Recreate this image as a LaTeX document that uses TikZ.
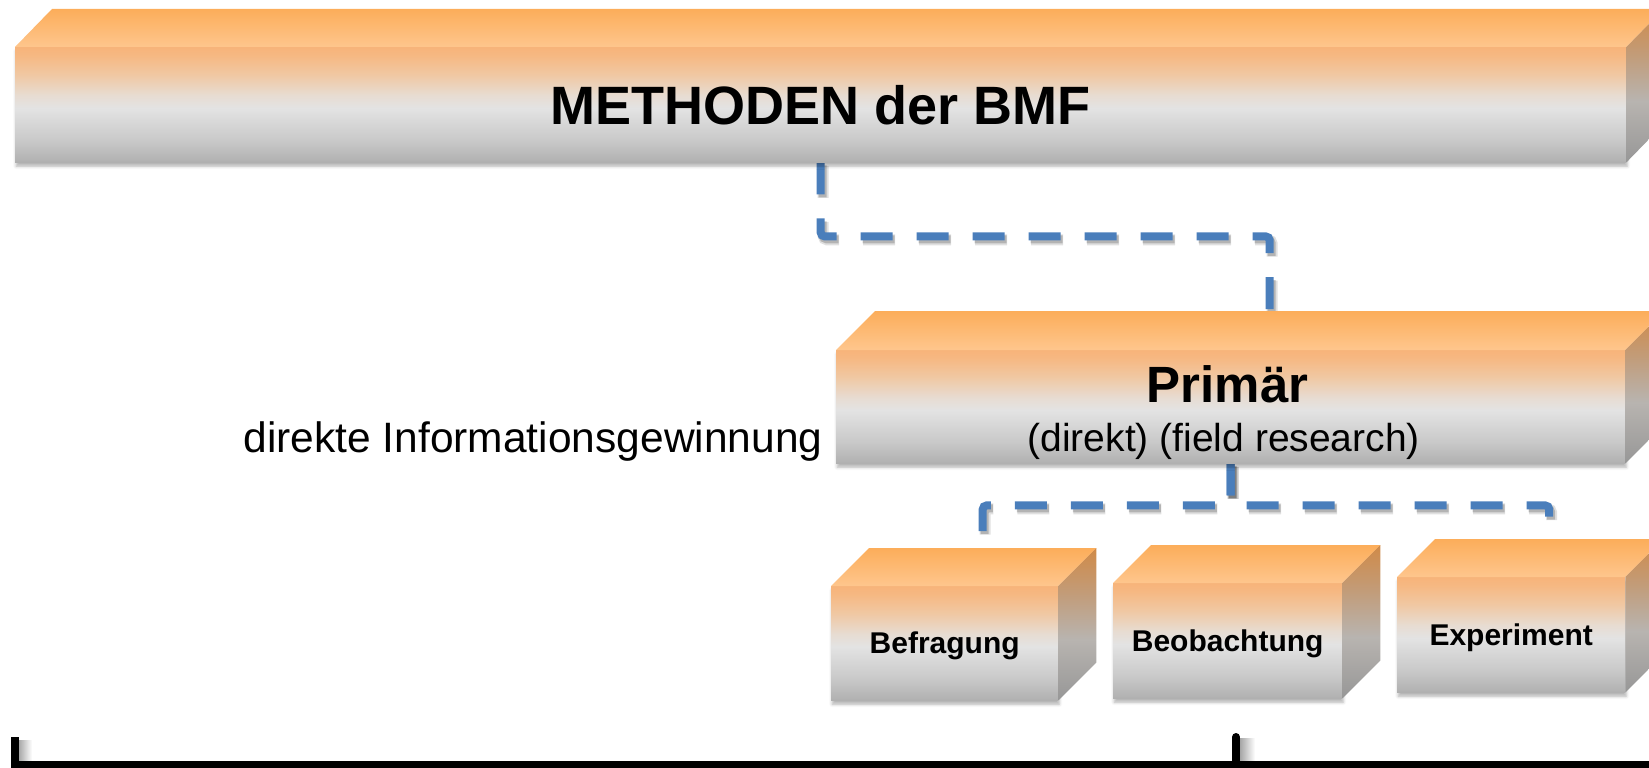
\documentclass[tikz,border=0pt]{standalone}
\usepackage{fontspec}
\setmainfont{Liberation Sans}
\usetikzlibrary{calc,shadows.blur}

\pgfdeclarelayer{bg}
\pgfsetlayers{bg,main}

% face colours of the 3-D blocks
\definecolor{fr0}{HTML}{B0B0B0}
\definecolor{fr1}{HTML}{C9C9C9}
\definecolor{fr2}{HTML}{E3E3E3}
\definecolor{fr3}{HTML}{E7DCD2}
\definecolor{fr4}{HTML}{F0C8A3}
\definecolor{fr5}{HTML}{F6B882}
\definecolor{fr6}{HTML}{F7B47A}
\definecolor{tp0}{HTML}{FEC68D}
\definecolor{tp1}{HTML}{FCAD5A}
\definecolor{sd0}{HTML}{979797}
\definecolor{sd1}{HTML}{B8B4B0}
\definecolor{sd2}{HTML}{C29C79}
\definecolor{sd3}{HTML}{D08A48}
\definecolor{linkblue}{HTML}{4A7EBB}

\pgfdeclareverticalshading{frontshade}{100bp}{color(0bp)=(fr0); color(25bp)=(fr0);
  color(34.5bp)=(fr1); color(48.5bp)=(fr2); color(54bp)=(fr3); color(63bp)=(fr4);
  color(71.5bp)=(fr5); color(75bp)=(fr6); color(100bp)=(fr6)}
\pgfdeclareverticalshading{topshade}{100bp}{color(0bp)=(tp0); color(25bp)=(tp0);
  color(75bp)=(tp1); color(100bp)=(tp1)}
\pgfdeclareverticalshading{sideshade}{100bp}{color(0bp)=(sd0); color(25bp)=(sd0);
  color(45bp)=(sd1); color(60bp)=(sd2); color(75bp)=(sd3); color(100bp)=(sd3)}

\tikzset{
  front/.style={rectangle, inner sep=0pt, anchor=north west, shade, shading=frontshade,
    blur shadow={shadow xshift=1pt, shadow yshift=-4pt, shadow blur radius=3pt, shadow opacity=30}},
  topface/.style={shade, shading=topshade},
  sideface/.style={shade, shading=sideshade},
  bigtitle/.style={font=\bfseries\fontsize{54}{60}\selectfont, text height=38.7pt, text depth=0pt},
  smalltitle/.style={font=\bfseries\fontsize{30}{36}\selectfont, text height=21.5pt, text depth=0pt},
  link/.style={draw=linkblue, line width=8pt, dash pattern=on 32pt off 24pt, rounded corners=4pt},
  linkshadow/.style={draw=black, draw opacity=.12, line width=11pt, dash pattern=on 32pt off 24pt,
    rounded corners=4pt, transform canvas={xshift=2.5pt, yshift=-3.5pt}},
  linkshade/.style={draw=black, draw opacity=.2, line width=8pt, dash pattern=on 32pt off 24pt,
    rounded corners=4pt, transform canvas={xshift=2pt, yshift=-3pt}},
  bracket/.style={draw=black, line width=8pt},
}

% top and right faces of a block whose front face is node #1, depth (#2,#3)
\newcommand\blockfaces[3]{%
  \path[topface] (#1.north west) -- ++(#2,-#3) -- ($(#1.north east)+(#2,-#3)$)
    -- (#1.north east) -- cycle;
  \path[sideface] (#1.north east) -- ++(#2,-#3) -- ($(#1.south east)+(#2,-#3)$)
    -- (#1.south east) -- cycle;
}

\begin{document}
\begin{tikzpicture}[x=1pt, y=-1pt]
\useasboundingbox (0,0) rectangle (1649,768);

% blocks
\node[front, bigtitle, minimum width=1611pt, minimum height=115pt] (meth) at (15,47) {METHODEN der BMF};
\blockfaces{meth}{37}{38}

\node[front, minimum width=789pt, minimum height=113pt] (prim) at (836,350) {};
\blockfaces{prim}{39}{39}
\node[anchor=base, font=\bfseries\fontsize{51}{56}\selectfont] (primlbl)
  at ($(prim.north)+(-3,52)$) {Primär};
\node[anchor=base, font=\fontsize{39}{44}\selectfont] (primsub)
  at ($(prim.north)+(-7,101)$) {(direkt) (field research)};

\node[front, smalltitle, minimum width=227pt, minimum height=114pt] (bef) at (831,586) {Befragung};
\blockfaces{bef}{38}{38}
\node[front, smalltitle, minimum width=229pt, minimum height=115pt] (beo) at (1113,583) {Beobachtung};
\blockfaces{beo}{38}{38}
\node[front, smalltitle, minimum width=228pt, minimum height=115pt] (exp) at (1397,577) {Experiment};
\blockfaces{exp}{38}{38}

\node[anchor=base, font=\fontsize{42.5}{48}\selectfont] (direkt) at (533,452) {direkte Informationsgewinnung};

% attachment points on the back edge of each block's top face
\coordinate (primtop) at ($(prim.north)+(39,-39)$);
\coordinate (beftop)  at ($(bef.north)+(38,-38)$);
\coordinate (exptop)  at ($(exp.north)+(38,-38)$);

% dashed elbow connectors with a soft drop shadow, behind the blocks
\begin{pgfonlayer}{bg}
  \foreach \sty in {linkshadow,linkshade,link} {
    \draw[\sty] (meth.south) -- ++(0,74) -| (primtop);
    \draw[\sty] (prim.south) -- ++(0,42) -| (beftop);
    \draw[\sty] (prim.south) -- ++(0,42) -| (exptop);
  }
\end{pgfonlayer}

% bracket along the bottom edge
\coordinate (brL) at (14.5,737);
\coordinate (brM) at (1236,737);
\coordinate (brR) at (1660,765);
\shade[left color=black!35, right color=white] (18.5,740) rectangle (32,761);
\shade[left color=black!35, right color=white] (1240,738) rectangle (1255,761);
\draw[bracket] (brL) |- (brR);
\draw[bracket, line cap=round] (brM) -- (brM |- brR);
\end{tikzpicture}
\end{document}
